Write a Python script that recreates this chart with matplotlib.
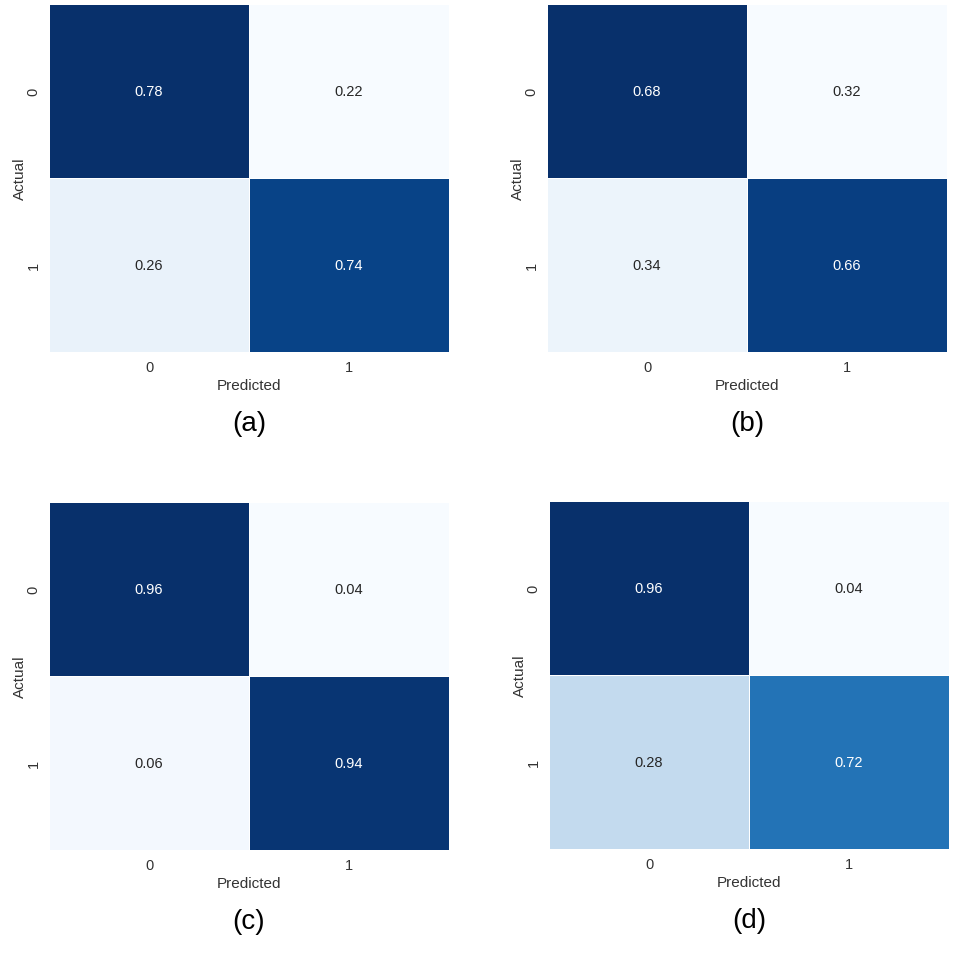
import matplotlib.pyplot as plt
import numpy as np
import seaborn as sns

sns.set_theme(style="white")
plt.rcParams["font.family"] = ["Liberation Sans", "DejaVu Sans"]

class_labels = ["0", "1"]
panel_tags = ["(a)", "(b)", "(c)", "(d)"]
cm_a = [[0.78, 0.22], [0.26, 0.74]]
cm_b = [[0.68, 0.32], [0.34, 0.66]]
cm_c = [[0.96, 0.04], [0.06, 0.94]]
cm_d = [[0.96, 0.04], [0.28, 0.72]]
matrices = [cm_a, cm_b, cm_c, cm_d]

W, H = 955, 954
fig = plt.figure(figsize=(W / 100, H / 100), dpi=100)

# heatmap boxes in pixels: left, top, width, height
boxes = [(49, 5, 400, 348), (547, 5, 400, 348), (49, 503, 400, 348), (549, 502, 400, 348)]

for cm, tag, (x0, y0, w, h) in zip(matrices, panel_tags, boxes):
    ax = fig.add_axes([x0 / W, 1 - (y0 + h) / H, w / W, h / H])
    sns.heatmap(
        np.array(cm),
        annot=True,
        fmt=".2f",
        cmap="Blues",
        cbar=False,
        linewidths=0.6,
        linecolor="white",
        xticklabels=class_labels,
        yticklabels=class_labels,
        annot_kws={"fontsize": 10.5},
        ax=ax,
    )
    ax.set_xlabel("Predicted", fontsize=11, color="#333333", labelpad=3)
    ax.set_ylabel("Actual", fontsize=11, color="#333333", labelpad=0)
    ax.tick_params(labelsize=10.5, colors="#333333", length=0, pad=6)
    ax.text(0.5, -0.205, tag, transform=ax.transAxes, ha="center", va="center",
            fontsize=20, color="black")

fig.savefig("out.png", dpi=100)
